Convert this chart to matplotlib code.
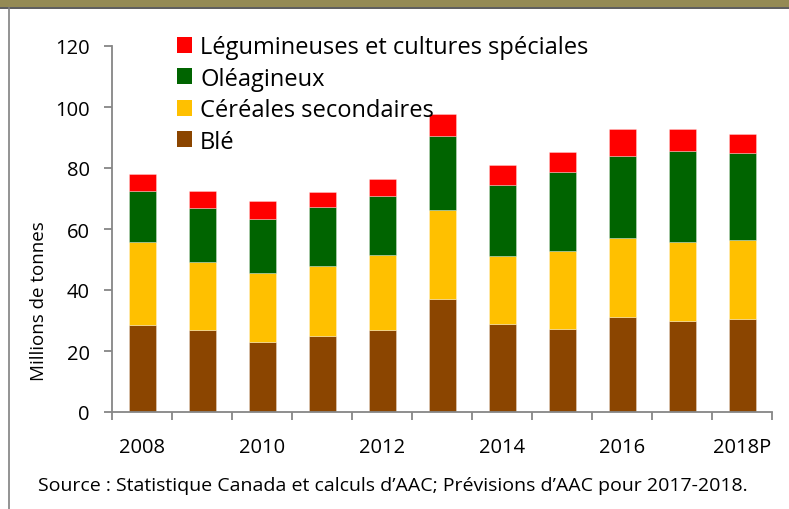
import matplotlib
matplotlib.use("Agg")
import matplotlib.pyplot as plt
from matplotlib.patches import Rectangle, Patch
from matplotlib.lines import Line2D
import numpy as np

plt.rcParams['font.family'] = ['Open Sans', 'DejaVu Sans']

years = ["2008", "2009", "2010", "2011", "2012", "2013", "2014", "2015", "2016", "2017", "2018P"]
tick_labels = ["2008", "2010", "2012", "2014", "2016", "2018P"]
ble = [28.4, 26.8, 23.0, 25.0, 27.0, 37.2, 29.0, 27.3, 31.3, 29.7, 30.4]
cereales = [27.3, 22.5, 22.6, 22.9, 24.4, 28.9, 22.1, 25.6, 25.9, 26.2, 25.9]
oleagineux = [16.7, 17.5, 17.7, 19.4, 19.4, 24.4, 23.3, 25.7, 26.6, 29.6, 28.5]
legumineuses = [5.5, 5.8, 5.9, 4.7, 5.7, 7.1, 6.5, 6.5, 8.9, 7.4, 6.3]

series = [
    ("Blé", ble, "#8B4500"),
    ("Céréales secondaires", cereales, "#FFC000"),
    ("Oléagineux", oleagineux, "#006400"),
    ("Légumineuses et cultures spéciales", legumineuses, "#FF0000"),
]

W, H = 789, 510
fig = plt.figure(figsize=(W / 100, H / 100), dpi=100)

# frame decorations
fig.patches.append(Rectangle((0, 1 - 8 / H), 1, 8 / H, transform=fig.transFigure,
                             facecolor="#948A54", edgecolor="none", zorder=0))
fig.lines.append(Line2D([0, 1], [1 - 9 / H, 1 - 9 / H], transform=fig.transFigure,
                        color="#404040", lw=1.2))
fig.lines.append(Line2D([9 / W, 9 / W], [0, 1 - 9 / H], transform=fig.transFigure,
                        color="#808080", lw=1.2))

ax = fig.add_axes([112 / W, (H - 413) / H, (772 - 112) / W, (413 - 47) / H])
x = np.arange(len(years))
bottom = np.zeros(len(years))
for name, vals, col in series:
    ax.bar(x, vals, width=0.45, bottom=bottom, color=col, label=name,
           edgecolor=(1, 1, 1, 0.35), linewidth=0.6)
    bottom += np.array(vals)

ax.set_xlim(-0.5, len(years) - 0.5)
ax.set_ylim(0, 120)
ax.set_yticks(np.arange(0, 121, 20))
ax.set_xticks(x[::2])
ax.set_xticklabels(tick_labels)
ax.set_xticks(np.arange(-0.5, len(years), 1.0), minor=True)

gray = "#868686"
for s in ["top", "right"]:
    ax.spines[s].set_visible(False)
for s in ["left", "bottom"]:
    ax.spines[s].set_color(gray)
    ax.spines[s].set_linewidth(1.3)

ax.tick_params(axis="y", direction="out", length=6, width=1.3, color=gray,
               labelsize=14.5, pad=10, labelcolor="black")
ax.tick_params(axis="x", which="major", length=0, labelsize=14.5, pad=18, labelcolor="black")
ax.tick_params(axis="x", which="minor", direction="out", length=6, width=1.3, color=gray)

fig.text(39 / W, 1 - 301 / H, "Millions de tonnes", rotation=90, ha="center", va="center",
         fontsize=13.5)

handles = [Patch(facecolor=c, edgecolor="none") for _, _, c in series][::-1]
labels = [n for n, _, _ in series][::-1]
leg = ax.legend(handles, labels, loc="upper left",
                bbox_to_anchor=(177 / W, 1 - 36 / H), bbox_transform=fig.transFigure,
                frameon=False, fontsize=17, handlelength=0.65, handleheight=0.65,
                handletextpad=0.33, labelspacing=0.32, borderpad=0, borderaxespad=0)

fig.text(38 / W, 1 - 486 / H,
         "Source : Statistique Canada et calculs d\u2019AAC; Prévisions d\u2019AAC pour 2017-2018.",
         ha="left", va="center", fontsize=14)

fig.savefig("out.png", dpi=100)
